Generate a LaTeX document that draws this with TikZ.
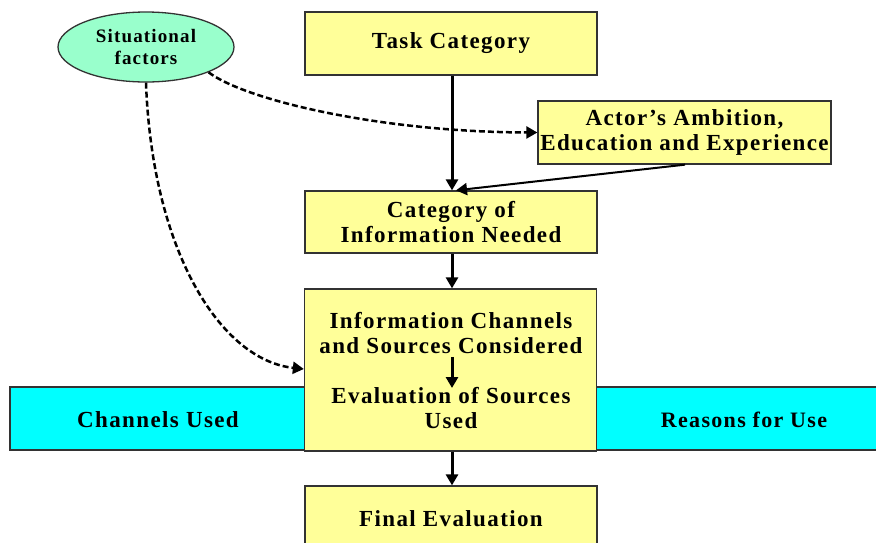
\documentclass[tikz,border=0pt]{standalone}
\usepackage{fontspec}
\setmainfont{Liberation Serif}[LetterSpace=6.0]
\usetikzlibrary{shapes.geometric,arrows.meta}
\definecolor{boxyellow}{HTML}{FFFF99}
\definecolor{bandcyan}{HTML}{00FFFF}
\definecolor{ellgreen}{HTML}{99FFCC}
\definecolor{edgegray}{HTML}{333333}
\tikzset{
  x=1pt, y=-1pt,
  ybox/.style={draw=edgegray, line width=1.3pt, fill=boxyellow, minimum width=292pt, align=center, inner sep=0pt},
  txt/.style={font=\bfseries\fontsize{23}{25}\selectfont, align=center, inner sep=0pt},
  flow/.style={line width=3pt, -{Triangle[length=11pt,width=12pt]}},
  thin flow/.style={line width=2pt, -{Triangle[length=11pt,width=12pt]}},
  dflow/.style={line width=2.5pt, dash pattern=on 6pt off 3pt, -{Triangle[length=11pt,width=12pt]}},
}
\begin{document}
\begin{tikzpicture}
\useasboundingbox (0,0) rectangle (876,542);
\clip (0,0) rectangle (876,542);
% band
\node[draw=edgegray, line width=1.3pt, fill=bandcyan, minimum width=872pt, minimum height=63pt, inner sep=0pt] (band) at (446,418.5) {};
\node[txt] (chan) at (158,420) {Channels Used};
\node[txt, font=\bfseries\fontsize{22}{25}\selectfont] (reas) at (744,420) {Reasons for Use};
% boxes
\node[ybox, minimum height=63pt] (task) at (451,43.5) {};
\node[txt] (tasktxt) at (task) {Task Category};
\node[ybox, minimum width=293pt, minimum height=63pt] (actor) at (684.5,132.5) {};
\node[txt] (actortxt) at (actor) {Actor’s Ambition,\\Education and Experience};
\node[ybox, minimum height=62pt] (cat) at (451,222) {};
\node[txt] (cattxt) at (cat) {Category of\\Information Needed};
\node[ybox, minimum height=162pt] (big) at (450.5,370) {};
\node[txt] (chtxt) at (451,333) {Information Channels\\and Sources Considered};
\node[txt] (evtxt) at (451,408) {Evaluation of Sources\\Used};
\node[ybox, minimum height=66pt] (final) at (451,519) {};
\node[txt] (finaltxt) at (final) {Final Evaluation};
% ellipse
\node[ellipse, draw=edgegray, line width=1.3pt, fill=ellgreen, minimum width=176pt, minimum height=70pt, inner sep=0pt,
      font=\bfseries\fontsize{19}{22}\selectfont, align=center] (sf) at (146,47) {Situational\\factors};
% connectors
\draw[flow] (task.south -| 452,0) -- (cat.north -| 452,0);
\draw[thin flow] (actor.south -| 685,0) -- (cat.north -| 456,0);
\draw[flow] (cat.south -| 452,0) -- (big.north -| 452,0);
\draw[flow] (big.south -| 452,0) -- (final.north -| 452,0);
\draw[flow] (chtxt.south -| 452,0) ++(0,3) -- (452,388);
\draw[dflow] (sf.-22) .. controls (245,100) and (380,132) .. (actor.west);
\draw[dflow] (sf.south) .. controls (152,250) and (220,360) .. (big.west |- 0,369);
\end{tikzpicture}
\end{document}
